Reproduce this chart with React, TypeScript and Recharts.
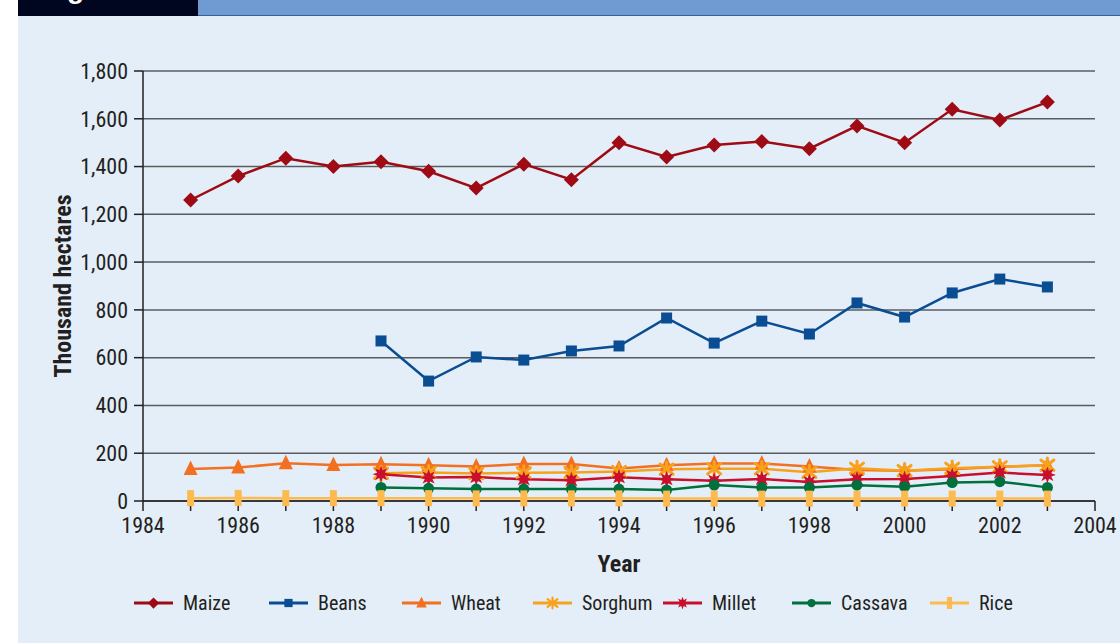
import React from "react";
import {
  CartesianGrid,
  Label,
  Line,
  LineChart,
  XAxis,
  YAxis,
} from "recharts";

const YEARS = [
  1985, 1986, 1987, 1988, 1989, 1990, 1991, 1992, 1993, 1994, 1995, 1996,
  1997, 1998, 1999, 2000, 2001, 2002, 2003,
];

const MAIZE = [
  1260, 1360, 1435, 1400, 1420, 1380, 1310, 1410, 1345, 1500, 1440, 1490,
  1505, 1475, 1570, 1500, 1640, 1595, 1670,
];
const BEANS = [
  null, null, null, null, 670, 502, 603, 590, 628, 649, 766, 661, 753, 699,
  829, 770, 871, 929, 896,
];
const WHEAT = [
  134, 140, 158, 151, 154, 150, 144, 155, 155, 136, 150, 157, 157, 144, 130,
  127, 133, 143, 150,
];
const SORGHUM = [
  null, null, null, null, 116, 119, 115, 118, 119, 123, 133, 135, 135, 120,
  137, 127, 137, 143, 150,
];
const MILLET = [
  null, null, null, null, 112, 98, 100, 91, 87, 99, 91, 85, 92, 80, 91, 92,
  105, 119, 109,
];
const CASSAVA = [
  null, null, null, null, 57, 53, 50, 50, 50, 50, 46, 67, 56, 56, 66, 60, 77,
  81, 57,
];
const RICE = [
  12, 13, 12, 12, 12, 12, 11, 11, 11, 11, 10, 10, 10, 10, 10, 10, 10, 10, 10,
];

const X_TICKS = [
  1984, 1985, 1986, 1987, 1988, 1989, 1990, 1991, 1992, 1993, 1994, 1995,
  1996, 1997, 1998, 1999, 2000, 2001, 2002, 2003, 2004,
];
const Y_TICKS = [0, 200, 400, 600, 800, 1000, 1200, 1400, 1600, 1800];

const FONT = "'Liberation Sans Narrow', 'Arial Narrow', 'Roboto Condensed', sans-serif";
const INK = "#231f20";

type MarkerKind = "diamond" | "square" | "triangle" | "asterisk" | "star" | "circle" | "bar";

const SERIES: { key: string; name: string; color: string; marker: MarkerKind; values: (number | null)[] }[] = [
  { key: "maize", name: "Maize", color: "#9e0b14", marker: "diamond", values: MAIZE },
  { key: "beans", name: "Beans", color: "#0a4d92", marker: "square", values: BEANS },
  { key: "wheat", name: "Wheat", color: "#f37021", marker: "triangle", values: WHEAT },
  { key: "sorghum", name: "Sorghum", color: "#f8a21c", marker: "asterisk", values: SORGHUM },
  { key: "millet", name: "Millet", color: "#c8102e", marker: "star", values: MILLET },
  { key: "cassava", name: "Cassava", color: "#00703c", marker: "circle", values: CASSAVA },
  { key: "rice", name: "Rice", color: "#fdbb4f", marker: "bar", values: RICE },
];

const chartData = YEARS.map((year, i) => {
  const row: Record<string, number | null> = { year };
  SERIES.forEach((s) => {
    row[s.key] = s.values[i];
  });
  return row;
});

function starPoints(cx: number, cy: number, outer: number, inner: number, n: number) {
  const pts: string[] = [];
  for (let i = 0; i < n * 2; i++) {
    const r = i % 2 === 0 ? outer : inner;
    const a = (Math.PI * i) / n - Math.PI / 2;
    pts.push(`${cx + r * Math.cos(a)},${cy + r * Math.sin(a)}`);
  }
  return pts.join(" ");
}

function Marker({ kind, cx, cy, color, s = 1 }: { kind: MarkerKind; cx: number; cy: number; color: string; s?: number }) {
  switch (kind) {
    case "diamond": {
      const r = 7.5 * s;
      return <polygon points={`${cx},${cy - r} ${cx + r},${cy} ${cx},${cy + r} ${cx - r},${cy}`} fill={color} />;
    }
    case "square": {
      const r = 5.5 * s;
      return <rect x={cx - r} y={cy - r} width={r * 2} height={r * 2} fill={color} />;
    }
    case "triangle": {
      const w = 7 * s;
      return <polygon points={`${cx},${cy - 8.5 * s} ${cx + w},${cy + 6 * s} ${cx - w},${cy + 6 * s}`} fill={color} />;
    }
    case "asterisk": {
      const r = 6.5 * s;
      return (
        <g stroke={color} strokeWidth={3 * s} strokeLinecap="round">
          <line x1={cx - r} y1={cy - r * 0.8} x2={cx + r} y2={cy + r * 0.8} />
          <line x1={cx - r} y1={cy + r * 0.8} x2={cx + r} y2={cy - r * 0.8} />
          <line x1={cx} y1={cy - r * 1.1} x2={cx} y2={cy + r * 1.1} />
        </g>
      );
    }
    case "star":
      return <polygon points={starPoints(cx, cy, 8.5 * s, 4.2 * s, 8)} fill={color} />;
    case "circle":
      return <circle cx={cx} cy={cy} r={5.5 * s} fill={color} />;
    case "bar":
      return <rect x={cx - 3.5 * s} y={cy - 8 * s} width={7 * s} height={16 * s} fill={color} />;
  }
  return null;
}

function makeDot(kind: MarkerKind, color: string) {
  return (props: any) => {
    const { cx, cy, index, value } = props;
    if (cx == null || cy == null || value == null) return <g key={`e-${index}`} />;
    return (
      <g key={`m-${index}`}>
        <Marker kind={kind} cx={cx} cy={cy} color={color} />
      </g>
    );
  };
}

// legend item x positions (line start)
const LEGEND_X = [134, 269, 402, 533, 663, 792, 930];

function ChartLegend() {
  return (
    <svg width={1120} height={40} style={{ position: "absolute", left: 0, top: 583 }}>
      {SERIES.map((s, i) => {
        const x = LEGEND_X[i];
        return (
          <g key={s.key}>
            <line x1={x} y1={20} x2={x + 39} y2={20} stroke={s.color} strokeWidth={3} />
            <Marker kind={s.marker} cx={x + 19.5} cy={20} color={s.color} s={0.75} />
            <text x={x + 49} y={20} dy="0.35em" fontSize={20} fontFamily={FONT} fill={INK}>
              {s.name}
            </text>
          </g>
        );
      })}
    </svg>
  );
}

export default function App() {
  return (
    <div style={{ position: "absolute", left: 0, top: 0, width: 1120, height: 643, background: "#fff", overflow: "hidden" }}>
      <div style={{ position: "absolute", left: 18, top: 0, width: 1102, height: 643, background: "#e3eef8" }} />
      {/* header strip, the title is cropped off above the picture */}
      <div style={{ position: "absolute", left: 18, top: 0, width: 180, height: 16, background: "#000520", overflow: "hidden" }}>
        <div style={{ position: "absolute", left: 24, top: -27, color: "#fff", fontFamily: "'Liberation Sans', Arial, sans-serif", fontSize: 28, fontWeight: "bold", lineHeight: "32px" }}>
          Figure
        </div>
      </div>
      <div style={{ position: "absolute", left: 198, top: 0, width: 922, height: 15, background: "#709bd2", borderBottom: "1px solid #3d5f8f" }} />

      <div style={{ position: "absolute", left: 0, top: 0 }}>
        <LineChart
          width={1120}
          height={643}
          data={chartData}
          margin={{ top: 71, right: 25, bottom: 102, left: 55 }}
        >
          <CartesianGrid vertical={false} stroke="#5b5b5e" strokeWidth={1.5} />
          <XAxis
            dataKey="year"
            type="number"
            domain={[1984, 2004]}
            ticks={X_TICKS}
            interval={0}
            tickFormatter={(v: number) => (v % 2 === 0 ? String(v) : "")}
            height={40}
            tickSize={10}
            tickMargin={6}
            axisLine={{ stroke: INK, strokeWidth: 1.5 }}
            tickLine={{ stroke: INK, strokeWidth: 1.5 }}
            tick={{ fill: INK, fontSize: 22, fontFamily: FONT }}
          >
            <Label value="Year" position="bottom" offset={14} style={{ fill: INK, fontSize: 24, fontWeight: "bold", fontFamily: FONT }} />
          </XAxis>
          <YAxis
            domain={[0, 1800]}
            ticks={Y_TICKS}
            interval={0}
            width={88}
            tickSize={9}
            tickMargin={6}
            tickFormatter={(v: number) => v.toLocaleString("en-US")}
            axisLine={{ stroke: INK, strokeWidth: 1.5 }}
            tickLine={{ stroke: INK, strokeWidth: 1.5 }}
            tick={{ fill: INK, fontSize: 22, fontFamily: FONT }}
          >
            <Label
              value="Thousand hectares"
              angle={-90}
              position="insideLeft"
              offset={7}
              style={{ fill: INK, fontSize: 24, fontWeight: "bold", fontFamily: FONT, textAnchor: "middle" }}
            />
          </YAxis>
          {SERIES.map((s) => (
            <Line
              key={s.key}
              dataKey={s.key}
              name={s.name}
              type="linear"
              stroke={s.color}
              strokeWidth={2.5}
              dot={makeDot(s.marker, s.color)}
              activeDot={false}
              isAnimationActive={false}
            />
          ))}
        </LineChart>
      </div>
      <ChartLegend />
    </div>
  );
}
